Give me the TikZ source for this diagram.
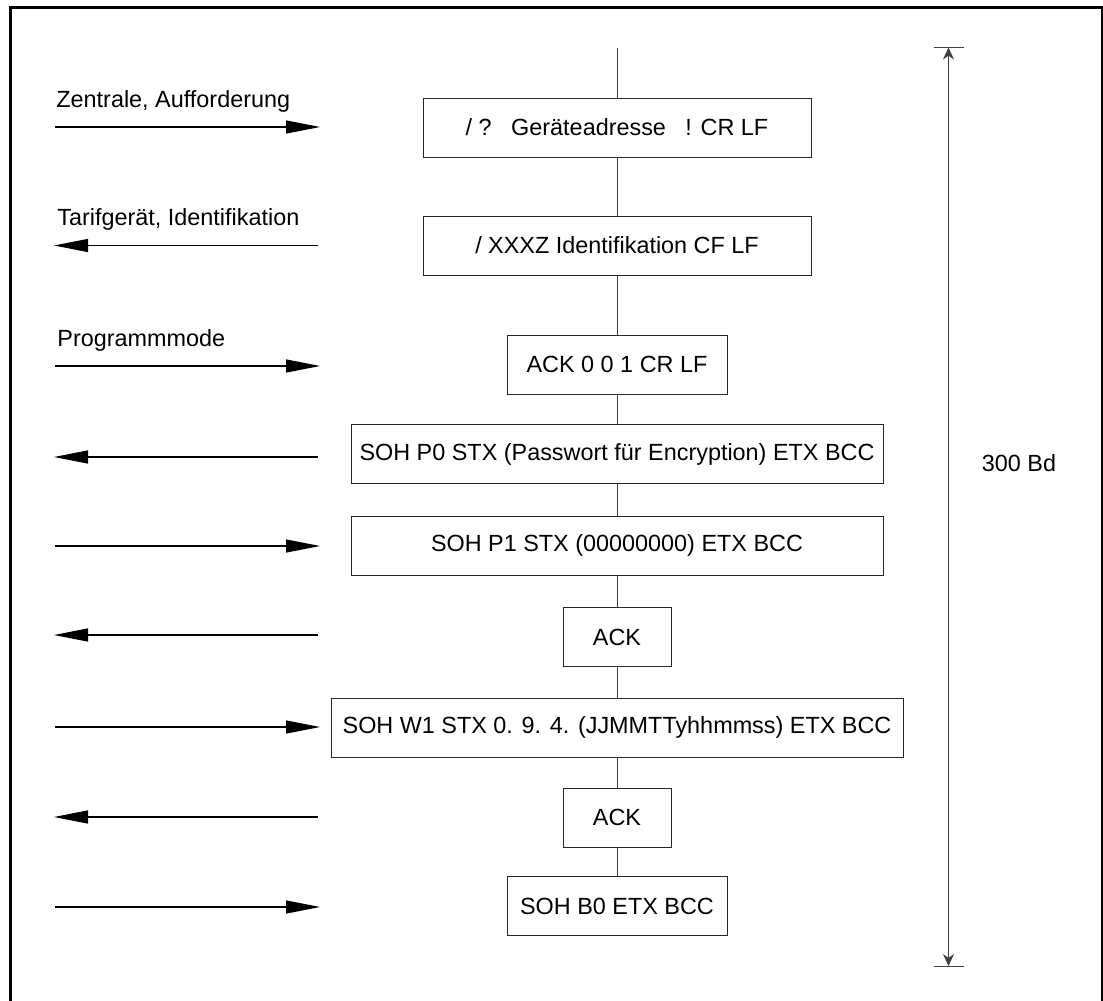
\documentclass[tikz,border=0pt]{standalone}
\usepackage{fontspec}
\setmainfont{Liberation Sans}
\usetikzlibrary{arrows.meta,positioning}

\begin{document}
\begin{tikzpicture}[
    x=0.5pt, y=-0.5pt,
    font=\fontsize{11.7}{14}\selectfont,
    msg/.style={rectangle, draw=black!85, line width=0.5pt, minimum height=29.5pt, inner sep=0pt, align=center},
    link/.style={draw=black!75, line width=0.5pt},
    send/.style={-{Triangle[length=17pt,width=6.5pt]}, line width=0.6pt},
    dirtext/.style={anchor=base west, inner sep=0pt},
    span/.style={{Stealth[length=6pt,width=5.5pt]}-{Stealth[length=6pt,width=5.5pt]}, draw=black!75, line width=0.6pt}
]
\useasboundingbox (0,0) rectangle (1103,1001);

% Frame (open at the bottom)
\draw[line width=1.5pt] (10,1001) -- (10,7.5) -- (1102,7.5) -- (1102,1001);

% Telegrams
\node[msg, minimum width=194pt] (m1) at (617,127.5) {/ ?\ \ \ Geräteadresse\ \ \ ! CR LF};
\node[msg, minimum width=194pt] (m2) at (617,245.5) {/ XXXZ Identifikation CF LF};
\node[msg, minimum width=110pt] (m3) at (617,364.5) {ACK 0 0 1 CR LF};
\node[msg, minimum width=266pt] (m4) at (617,454) {SOH P0 STX (Passwort für Encryption) ETX BCC};
\node[msg, minimum width=266pt] (m5) at (617,545.5) {SOH P1 STX (00000000) ETX BCC};
\node[msg, minimum width=54pt] (m6) at (617,637) {ACK};
\node[msg, minimum width=286pt] (m7) at (617,727.5) {SOH W1 STX 0. 9. 4. (JJMMTTyhhmmss) ETX BCC};
\node[msg, minimum width=54pt] (m8) at (617,817.5) {ACK};
\node[msg, minimum width=110pt] (m9) at (617,906) {SOH B0 ETX BCC};

% Time line
\coordinate (start) at (617,48);
\draw[link] (start) -- (m1);
\draw[link] (m1) -- (m2);
\draw[link] (m2) -- (m3);
\draw[link] (m3) -- (m4);
\draw[link] (m4) -- (m5);
\draw[link] (m5) -- (m6);
\draw[link] (m6) -- (m7);
\draw[link] (m7) -- (m8);
\draw[link] (m8) -- (m9);

% Direction arrows
\coordinate (l1) at (55,127);   \coordinate (r1) at (320,127);
\coordinate (l2) at (54,245.5); \coordinate (r2) at (318,245.5);
\coordinate (l3) at (55,366);   \coordinate (r3) at (320,366);
\coordinate (l4) at (54,457);   \coordinate (r4) at (318,457);
\coordinate (l5) at (55,546);   \coordinate (r5) at (320,546);
\coordinate (l6) at (54,635);   \coordinate (r6) at (318,635);
\coordinate (l7) at (55,727);   \coordinate (r7) at (320,727);
\coordinate (l8) at (54,817);   \coordinate (r8) at (318,817);
\coordinate (l9) at (55,907);   \coordinate (r9) at (320,907);

\draw[send] (l1) -- (r1);
\draw[send] (r2) -- (l2);
\draw[send] (l3) -- (r3);
\draw[send] (r4) -- (l4);
\draw[send] (l5) -- (r5);
\draw[send] (r6) -- (l6);
\draw[send] (l7) -- (r7);
\draw[send] (r8) -- (l8);
\draw[send] (l9) -- (r9);

\node[dirtext] (t1) at (56,107) {Zentrale, Aufforderung};
\node[dirtext] (t2) at (57,225) {Tarifgerät, Identifikation};
\node[dirtext] (t3) at (57,346) {Programmmode};

% Duration
\coordinate (dtop) at (948.5,47.5);
\coordinate (dbot) at (948.5,966);
\draw[link] (dtop) ++(-15,0) -- ++(30,0);
\draw[link] (dbot) ++(-15,0) -- ++(30,0);
\draw[span] (dtop) -- (dbot);
\node (baud) at (1019,463) {300 Bd};

\end{tikzpicture}
\end{document}
